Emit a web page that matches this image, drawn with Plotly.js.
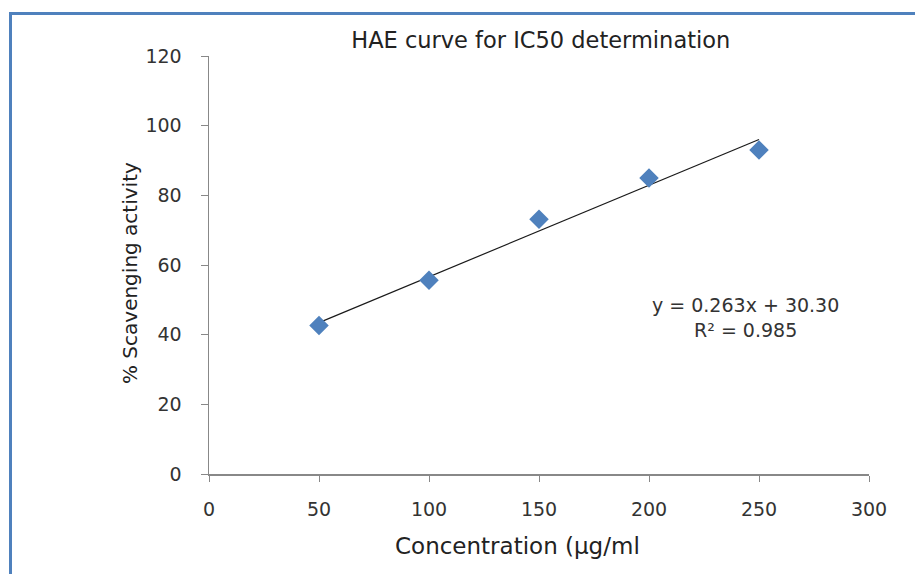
<!DOCTYPE html>
<html>
<head>
<meta charset="utf-8">
<script src="https://cdn.plot.ly/plotly-3.0.1.min.js"></script>
<style>
html,body{margin:0;padding:0;background:#fff;}
#frame{position:absolute;left:9px;top:12px;width:906px;height:562px;border-top:3px solid #4F81BD;border-left:3px solid #4F81BD;}
#chart{position:absolute;left:0;top:0;width:915px;height:574px;}
</style>
</head>
<body>
<div id="frame"></div>
<div id="chart"></div>
<script>
const concentration = [50, 100, 150, 200, 250];
const scavenging = [42.6, 55.6, 73.1, 85.0, 93.0];
const slope = 0.263;
const intercept = 30.30;
const trendX = [50, 250];
const trendY = trendX.map(x => slope * x + intercept);
const xTicks = [0, 50, 100, 150, 200, 250, 300];
const yTicks = [0, 20, 40, 60, 80, 100, 120];
const chartTitle = 'HAE curve for IC50 determination';
const xTitle = 'Concentration (µg/ml';
const yTitle = '% Scavenging activity';
const equationText = 'y = 0.263x + 30.30<br>R² = 0.985';

const font = "DejaVu Sans, Verdana, sans-serif";
const W = 915, H = 574;
const M = {l: 209, r: 46, t: 56, b: 100};
const pw = W - M.l - M.r, ph = H - M.t - M.b;

const traces = [
  {x: trendX, y: trendY, mode: 'lines', type: 'scatter',
   line: {color: '#1a1a1a', width: 1.2}, hoverinfo: 'skip'},
  {x: concentration, y: scavenging, mode: 'markers', type: 'scatter',
   marker: {symbol: 'diamond', size: 15, color: '#4F81BD'}}
];

const layout = {
  width: W, height: H,
  margin: M,
  paper_bgcolor: 'rgba(0,0,0,0)', plot_bgcolor: 'rgba(0,0,0,0)',
  showlegend: false,
  font: {family: font, color: '#333', size: 19},
  title: {text: chartTitle, x: 0.591, xanchor: 'center', y: 0.93, yanchor: 'middle',
          font: {family: font, size: 22.5, color: '#222'}},
  xaxis: {range: [0, 300], tickvals: xTicks, ticktext: xTicks.map(String),
          showgrid: false, zeroline: false, showline: true, linecolor: '#888', linewidth: 1.5,
          ticks: 'outside', ticklen: 6, tickcolor: '#888', ticklabelstandoff: 12,
          tickfont: {family: font, size: 19, color: '#333'}},
  yaxis: {range: [0, 120], tickvals: yTicks, ticktext: yTicks.map(String),
          showgrid: false, zeroline: false, showline: true, linecolor: '#888', linewidth: 1.5,
          ticks: 'outside', ticklen: 7, tickcolor: '#888', ticklabelstandoff: 15,
          tickfont: {family: font, size: 19, color: '#333'}},
  annotations: [
    {x: 244, y: 44.8, xref: 'x', yref: 'y', text: equationText, showarrow: false,
     align: 'center', font: {family: font, size: 19, color: '#333'}, xanchor: 'center', yanchor: 'middle'},
    {x: (517 - M.l) / pw, y: -(546 - M.t - ph) / ph, xref: 'paper', yref: 'paper', text: xTitle,
     showarrow: false, xanchor: 'center', yanchor: 'middle', font: {family: font, size: 23, color: '#222'}},
    {x: -(M.l - 130) / pw, y: 1 - (273 - M.t) / ph, xref: 'paper', yref: 'paper', text: yTitle,
     textangle: -90, showarrow: false, xanchor: 'center', yanchor: 'middle', font: {family: font, size: 20, color: '#222'}}
  ]
};

Plotly.newPlot('chart', traces, layout, {displayModeBar: false, staticPlot: true});
</script>
</body>
</html>
